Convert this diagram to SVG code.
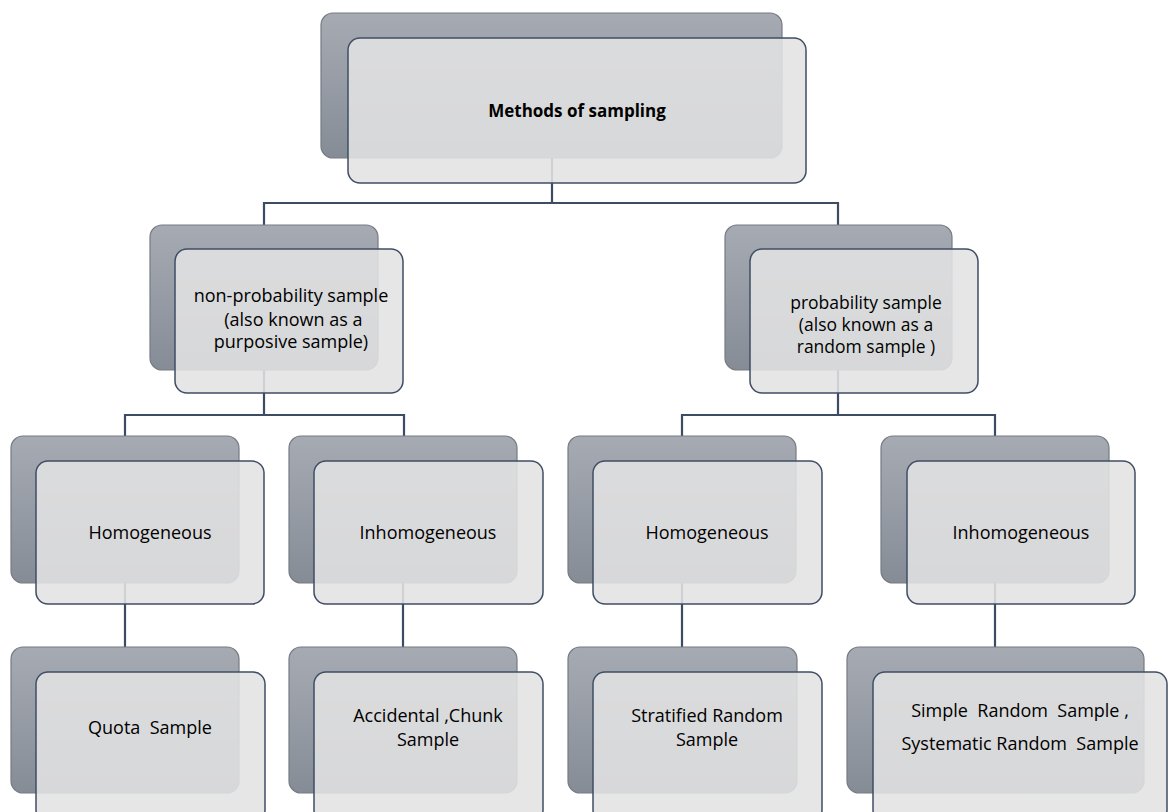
<svg xmlns="http://www.w3.org/2000/svg" width="1168" height="812" viewBox="0 0 1168 812">
<defs>
<linearGradient id="bg" x1="0" y1="0" x2="0" y2="1">
<stop offset="0" stop-color="#a6abb3"/>
<stop offset="1" stop-color="#868c96"/>
</linearGradient>
</defs>
<style>
.back{fill:url(#bg);stroke:#767b82;stroke-width:1.2}
.front{fill:#e3e3e3;fill-opacity:0.88;stroke:#3f4d66;stroke-width:1.5}
.conn{fill:none;stroke:#3d4b63;stroke-width:2.2}
text{font-family:"Open Sans","Liberation Sans",sans-serif;font-size:18px;fill:#000;text-anchor:middle;white-space:pre}
.title{font-weight:bold;font-size:17px}
.sm{font-size:17.5px}
</style>
<rect width="1168" height="812" fill="#ffffff"/>
<g id="connectors">
<path class="conn" d="M552,150 V203 M264,225 V203 H838 V225"/>
<path class="conn" d="M264,360 V415 M125,436 V415 H404 V436"/>
<path class="conn" d="M838,360 V415 M682,436 V415 H995 V436"/>
<path class="conn" d="M125,575 V647 M403,575 V647 M682,575 V647 M995,575 V647"/>
</g>
<g id="root">
<rect class="back" x="321" y="13" width="461" height="145" rx="12"/>
<rect class="front" x="348" y="38" width="458" height="145" rx="12"/>
<text class="title" x="577" y="117">Methods of sampling</text>
</g>
<g id="nonprob">
<rect class="back" x="150" y="225" width="228" height="145" rx="12"/>
<rect class="front" x="175" y="249" width="228" height="144" rx="12"/>
<text x="291" y="302">non-probability sample<tspan x="291" dy="24"> (also known as a</tspan><tspan x="291" dy="22">purposive sample)</tspan></text>
</g>
<g id="prob">
<rect class="back" x="725" y="225" width="227" height="145" rx="12"/>
<rect class="front" x="750" y="249" width="228" height="144" rx="12"/>
<text class="sm" x="866" y="309">probability sample<tspan x="866" dy="22">(also known as a</tspan><tspan x="866" dy="22">random sample )</tspan></text>
</g>
<g id="homo1">
<rect class="back" x="11" y="436" width="228" height="147" rx="12"/>
<rect class="front" x="36" y="461" width="228" height="143" rx="12"/>
<text x="150" y="539">Homogeneous</text>
</g>
<g id="inhomo1">
<rect class="back" x="289" y="436" width="228" height="147" rx="12"/>
<rect class="front" x="314" y="461" width="229" height="143" rx="12"/>
<text x="428" y="539">Inhomogeneous</text>
</g>
<g id="homo2">
<rect class="back" x="568" y="436" width="228" height="147" rx="12"/>
<rect class="front" x="593" y="461" width="229" height="143" rx="12"/>
<text x="707" y="539">Homogeneous</text>
</g>
<g id="inhomo2">
<rect class="back" x="881" y="436" width="228" height="147" rx="12"/>
<rect class="front" x="907" y="461" width="228" height="143" rx="12"/>
<text x="1021" y="539">Inhomogeneous</text>
</g>
<g id="quota">
<rect class="back" x="11" y="647" width="228" height="146" rx="12"/>
<rect class="front" x="36" y="672" width="229" height="150" rx="12"/>
<text x="150" y="734">Quota  Sample</text>
</g>
<g id="accidental">
<rect class="back" x="289" y="647" width="228" height="146" rx="12"/>
<rect class="front" x="314" y="672" width="229" height="150" rx="12"/>
<text x="428" y="722">Accidental ,Chunk<tspan x="428" dy="24">Sample</tspan></text>
</g>
<g id="stratified">
<rect class="back" x="568" y="647" width="229" height="146" rx="12"/>
<rect class="front" x="593" y="672" width="229" height="150" rx="12"/>
<text x="707" y="722">Stratified Random<tspan x="707" dy="24">Sample</tspan></text>
</g>
<g id="simple">
<rect class="back" x="847" y="647" width="297" height="146" rx="12"/>
<rect class="front" x="873" y="672" width="294" height="150" rx="12"/>
<text x="1020" y="717">Simple  Random  Sample ,<tspan x="1020" dy="33">Systematic Random  Sample</tspan></text>
</g>
</svg>
